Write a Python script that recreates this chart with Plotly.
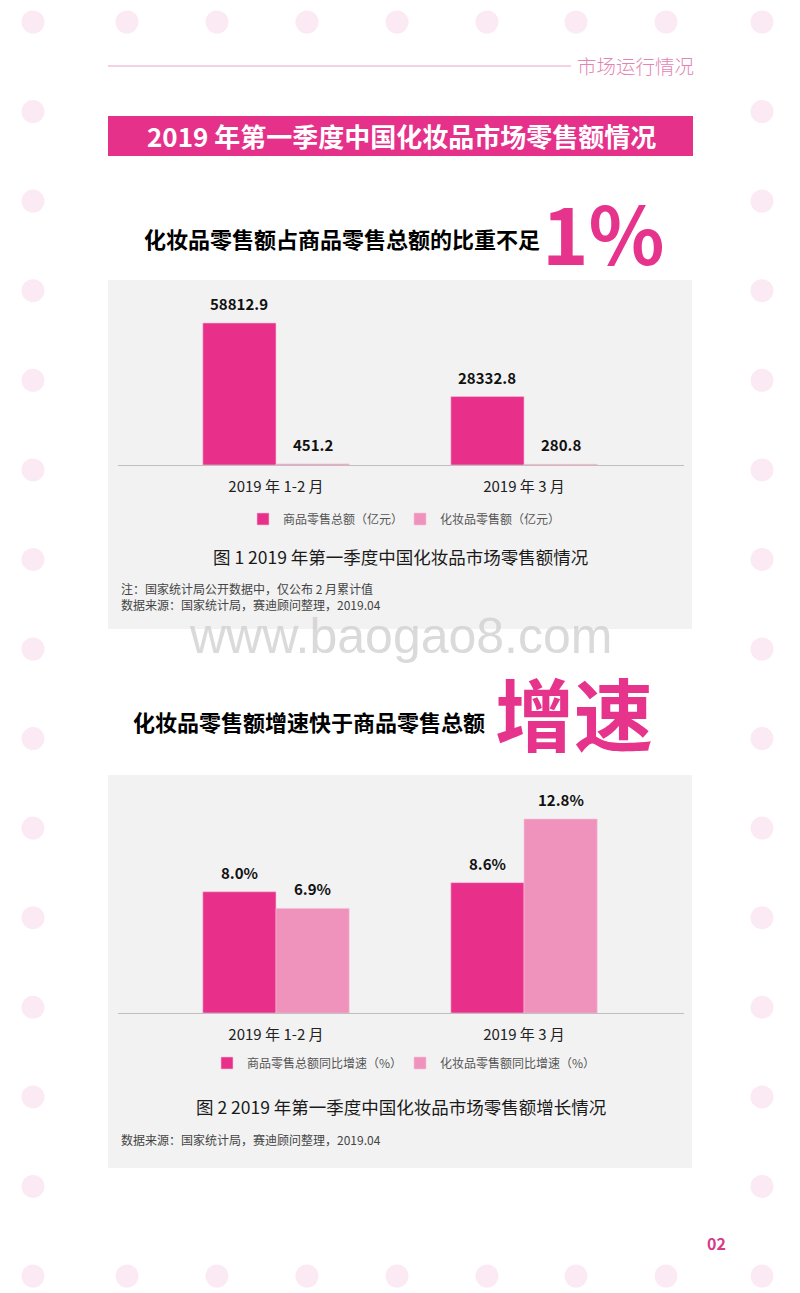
import plotly.graph_objects as go

# ---------------- data ----------------
categories = ["2019 年 1-2 月", "2019 年 3 月"]
sales_total = [58812.9, 28332.8]          # 商品零售总额（亿元）
sales_cosm = [451.2, 280.8]               # 化妆品零售额（亿元）
growth_total = [8.0, 8.6]                 # 商品零售总额同比增速（%）
growth_cosm = [6.9, 12.8]                 # 化妆品零售额同比增速（%）
labels_total = ["58812.9", "28332.8"]
labels_cosm = ["451.2", "280.8"]
glabels_total = ["8.0%", "8.6%"]
glabels_cosm = ["6.9%", "12.8%"]
legend1_names = ["商品零售总额（亿元）", "化妆品零售额（亿元）"]
legend2_names = ["商品零售总额同比增速（%）", "化妆品零售额同比增速（%）"]

# ---------------- style ----------------
W, H = 800, 1293
FONT = "Noto Sans CJK SC"
DARK = "#e8308a"
LIGHT = "#ef93bc"
BANNER = "#e5318a"
DOT = "#fbeaf3"
PANEL = "#f2f2f2"

def px(x):
    return x / W

def py(y):
    return 1 - y / H

BARGAP = 0.41
XRANGE = [-0.637, 1.645]
bw = (1 - BARGAP) / 2  # width of one bar in axis units

fig = go.Figure()

edge = dict(color="#f6bfd8", width=0.6)
fig.add_trace(go.Bar(x=categories, y=sales_total, name=legend1_names[0],
                     marker=dict(color=DARK, line=edge),
                     xaxis="x", yaxis="y", legend="legend", hoverinfo="skip"))
fig.add_trace(go.Bar(x=categories, y=sales_cosm, name=legend1_names[1],
                     marker=dict(color=LIGHT, line=edge),
                     xaxis="x", yaxis="y", legend="legend", hoverinfo="skip"))
fig.add_trace(go.Bar(x=categories, y=growth_total, name=legend2_names[0],
                     marker=dict(color=DARK, line=edge),
                     xaxis="x2", yaxis="y2", legend="legend2", hoverinfo="skip"))
fig.add_trace(go.Bar(x=categories, y=growth_cosm, name=legend2_names[1],
                     marker=dict(color=LIGHT, line=edge),
                     xaxis="x2", yaxis="y2", legend="legend2", hoverinfo="skip"))

shapes = []
# decorative dots around the page
dot_r = 11.5
row_x = [33, 127, 217, 307, 397, 487, 576, 666, 762]
col_y = [22 + i * (1276 - 22) / 14 for i in range(15)]
dot_pos = set()
for x in row_x:
    dot_pos.add((x, 22))
    dot_pos.add((x, 1276))
for y in col_y:
    dot_pos.add((33, round(y, 1)))
    dot_pos.add((762, round(y, 1)))
for (x, y) in dot_pos:
    shapes.append(dict(type="circle", xref="paper", yref="paper",
                       x0=px(x - dot_r), x1=px(x + dot_r),
                       y0=py(y + dot_r), y1=py(y - dot_r),
                       fillcolor=DOT, line=dict(width=0), layer="below"))

# top rule line
shapes.append(dict(type="line", xref="paper", yref="paper",
                   x0=px(108), x1=px(571), y0=py(66), y1=py(66),
                   line=dict(color="#eaa3c6", width=1), layer="below"))
# banner
shapes.append(dict(type="rect", xref="paper", yref="paper",
                   x0=px(108), x1=px(693), y0=py(156), y1=py(116),
                   fillcolor=BANNER, line=dict(width=0), layer="below"))
# panels
shapes.append(dict(type="rect", xref="paper", yref="paper",
                   x0=px(108), x1=px(692), y0=py(629), y1=py(280),
                   fillcolor=PANEL, line=dict(width=0), layer="below"))
shapes.append(dict(type="rect", xref="paper", yref="paper",
                   x0=px(108), x1=px(692), y0=py(1168), y1=py(775),
                   fillcolor=PANEL, line=dict(width=0), layer="below"))

ann = []

def text(x, y, s, size, color="#222222", weight="normal", xanchor="center",
         family=FONT, yanchor="middle"):
    ann.append(dict(xref="paper", yref="paper", x=px(x), y=py(y), text=s,
                    showarrow=False, xanchor=xanchor, yanchor=yanchor,
                    font=dict(family=family, size=size, color=color, weight=weight)))

text(575, 66, "市场运行情况", 19.5, color="#e384b3", weight=300, xanchor="left")
text(401, 136, "2019 年第一季度中国化妆品市场零售额情况", 26, color="white", weight="bold")
text(542, 238, "化妆品零售额占商品零售总额的比重不足", 22, color="#000000", weight="bold", xanchor="right")
text(540, 230, "1%", 79, color="#e6348c", weight="bold", xanchor="left")
text(400, 556, "图 1 2019 年第一季度中国化妆品市场零售额情况", 17.5, color="#1a1a1a")
text(119, 588, "注：国家统计局公开数据中，仅公布 2 月累计值", 12, color="#444444", xanchor="left")
text(119, 604, "数据来源：国家统计局，赛迪顾问整理，2019.04", 12, color="#444444", xanchor="left")
text(400, 636, "www.baogao8.com", 50, color="rgba(205,205,205,0.75)", family="Liberation Sans")
text(487, 721, "化妆品零售额增速快于商品零售总额", 22, color="#000000", weight="bold", xanchor="right")
text(493, 711, "增速", 79, color="#e6348c", weight="bold", xanchor="left")
text(401, 1106, "图 2 2019 年第一季度中国化妆品市场零售额增长情况", 17.5, color="#1a1a1a")
text(119, 1139, "数据来源：国家统计局，赛迪顾问整理，2019.04", 12, color="#444444", xanchor="left")
text(716, 1243, "02", 16, color="#d93a88", weight="bold")

# data labels above bars
def bar_labels(xref, yref, vals, labs, offset):
    for i, (v, t) in enumerate(zip(vals, labs)):
        ann.append(dict(xref=xref, yref=yref, x=i + offset, y=v, text=t,
                        showarrow=False, xanchor="center", yanchor="bottom", yshift=7,
                        font=dict(family=FONT, size=15, color="#111111", weight="bold")))

bar_labels("x", "y", sales_total, labels_total, -bw / 2)
bar_labels("x", "y", sales_cosm, labels_cosm, bw / 2)
bar_labels("x2", "y2", growth_total, glabels_total, -bw / 2)
bar_labels("x2", "y2", growth_cosm, glabels_cosm, bw / 2)

# axis geometry
c1_bottom, c1_top, c1_bar_top = 465, 290, 323
c2_bottom, c2_top, c2_bar_top = 1013, 790, 819
y1max = max(sales_total) * (c1_bottom - c1_top) / (c1_bottom - c1_bar_top)
y2max = max(growth_cosm) * (c2_bottom - c2_top) / (c2_bottom - c2_bar_top)

xaxis_common = dict(type="category", range=XRANGE, showgrid=False, zeroline=False,
                    showline=True, linecolor="#bfbfbf", linewidth=1, ticks="",
                    tickfont=dict(family=FONT, size=15, color="#222222"),
                    ticklabelstandoff=8, fixedrange=True)
yaxis_common = dict(visible=False, showgrid=False, zeroline=False, fixedrange=True)

legend_common = dict(orientation="h", xanchor="center", x=0.5, yanchor="middle",
                     bgcolor="rgba(0,0,0,0)",
                     font=dict(family=FONT, size=12, color="#555555"),
                     itemwidth=30, tracegroupgap=0, entrywidthmode="pixels")

fig.update_layout(
    width=W, height=H,
    margin=dict(l=0, r=0, t=0, b=0),
    paper_bgcolor="white",
    plot_bgcolor="rgba(0,0,0,0)",
    barmode="group", bargap=BARGAP, bargroupgap=0,
    xaxis=dict(domain=[px(118), px(684)], anchor="y", **xaxis_common),
    yaxis=dict(domain=[py(c1_bottom), py(c1_top)], anchor="x", range=[0, y1max], **yaxis_common),
    xaxis2=dict(domain=[px(118), px(684)], anchor="y2", **xaxis_common),
    yaxis2=dict(domain=[py(c2_bottom), py(c2_top)], anchor="x2", range=[0, y2max], **yaxis_common),
    legend=dict(y=py(519), entrywidth=112, **legend_common),
    legend2=dict(y=py(1063), entrywidth=148, **legend_common),
    shapes=shapes,
    annotations=ann,
    showlegend=True,
)

fig.write_html("out.html", config={"displayModeBar": False},
               post_script="document.body.style.margin='0px';")
